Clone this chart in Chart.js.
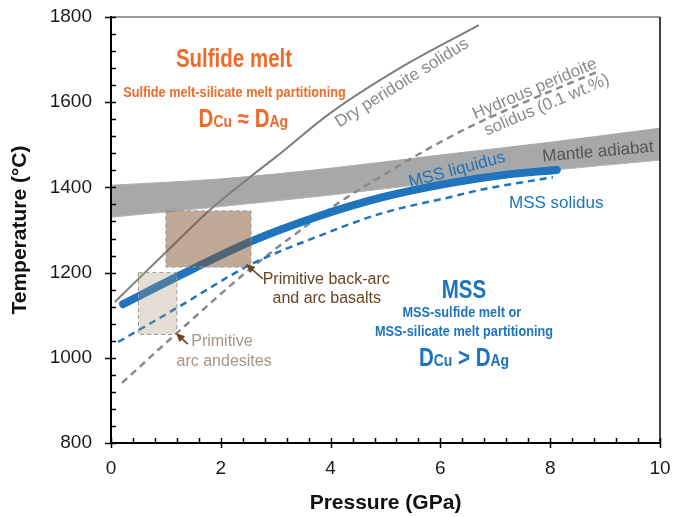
<!DOCTYPE html>
<html>
<head>
<meta charset="utf-8">
<script src="https://cdn.jsdelivr.net/npm/chart.js@4.4.1/dist/chart.umd.min.js"></script>
<style>
html,body{margin:0;padding:0;background:#fff;}
canvas{display:block;}
</style>
</head>
<body>
<canvas id="c" width="674" height="517"></canvas>
<script>
// ---------------- data ----------------
const xTickValues = [0, 2, 4, 6, 8, 10];
const yTickValues = [800, 1000, 1200, 1400, 1600, 1800];

const adiabatP      = [0, 2, 4, 6, 8, 10];
const adiabatTop    = [1405, 1420, 1445, 1476, 1506, 1539];
const adiabatBottom = [1330, 1355, 1382, 1412, 1440, 1464];

const dryP = [0.07, 1.04, 1.8, 2.53, 3.0, 4.0, 5.26, 6.7];
const dryT = [1131, 1253, 1347, 1424, 1471, 1575, 1680, 1781];

const hydrousP = [0.2, 1.2, 2.5, 3.3, 4.1, 5.0, 5.7, 6.5, 7.5, 8.85];
const hydrousT = [941, 1058, 1205, 1285, 1360, 1432, 1485, 1540, 1598, 1671];

const liquidusP = [0.22, 1.2, 2.53, 3.75, 4.95, 6.17, 7.2, 8.12];
const liquidusT = [1126, 1190, 1272, 1331, 1377, 1410, 1430, 1441];

const solidusP = [0.13, 1.2, 2.53, 3.75, 4.95, 6.17, 6.72, 8.05];
const solidusT = [1037, 1117, 1218, 1284, 1340, 1377, 1394, 1424];

// rectangles: [Pmin, Pmax, Tmin, Tmax]
const backArcBox  = [1.0, 2.55, 1213, 1345];
const andesiteBox = [0.5, 1.2, 1055, 1200];

// ---------------- helpers ----------------
const pts = (xs, ys) => xs.map((x, i) => ({x: x, y: ys[i]}));
const SANS = '"Liberation Sans", Arial, Helvetica, sans-serif';
const BLUE = '#1e73be';
const ORANGE = '#f06a28';
const GRAY = '#8a8a8a';

// annotation placement (data coordinates)
const labels = [
  {t: 'Dry peridoite solidus', p: 5.30, T: 1645, rot: -32, size: 17, color: GRAY},
  {t: 'Hydrous peridoite', p: 7.72, T: 1631, rot: -23, size: 17, color: GRAY},
  {t: 'solidus (0.1 wt.%)', p: 7.94, T: 1593, rot: -23, size: 17, color: GRAY},
  {t: 'Mantle adiabat', p: 8.87, T: 1483, rot: -5, size: 17, color: '#555555'},
  {t: 'MSS liquidus', p: 6.30, T: 1441, rot: -15, size: 17, color: BLUE},
  {t: 'MSS solidus', p: 8.11, T: 1363, rot: 0, size: 17, color: BLUE},
  {t: 'Primitive back-arc', p: 3.92, T: 1183, rot: 0, size: 16, color: '#6a4523'},
  {t: 'and arc basalts', p: 3.93, T: 1138, rot: 0, size: 16, color: '#6a4523'},
  {t: 'Primitive', p: 2.02, T: 1037, rot: 0, size: 16, color: '#a89484'},
  {t: 'arc andesites', p: 2.06, T: 990, rot: 0, size: 16, color: '#a89484'}
];
// bold condensed labels: baseline positions
const boldLabels = [
  {segs: [['Sulfide melt', 25]], p: 2.24, T: 1683, color: ORANGE},
  {segs: [['Sulfide melt-silicate melt partitioning', 15.5]], p: 2.25, T: 1612, color: ORANGE},
  {segs: [['D', 25], ['Cu', 17], [' \u2248 ', 25], ['D', 25], ['Ag', 17]], p: 2.41, T: 1542, color: ORANGE},
  {segs: [['MSS', 25]], p: 6.43, T: 1140, color: BLUE},
  {segs: [['MSS-sulfide melt or', 15.5]], p: 6.39, T: 1096, color: BLUE},
  {segs: [['MSS-silicate melt partitioning', 15.5]], p: 6.43, T: 1051, color: BLUE},
  {segs: [['D', 25], ['Cu', 17], [' > ', 25], ['D', 25], ['Ag', 17]], p: 6.43, T: 981, color: BLUE}
];
const arrows = [
  {from: [2.77, 1185], to: [2.46, 1220]},
  {from: [1.40, 1032], to: [1.18, 1058]}
];

const decor = {
  id: 'decor',
  afterDraw(chart) {
    const ctx = chart.ctx;
    const xs = chart.scales.x, ys = chart.scales.y;
    const X = v => xs.getPixelForValue(v), Y = v => ys.getPixelForValue(v);
    const area = chart.chartArea;

    // rectangles
    const rect = (b, fill) => {
      const x0 = X(b[0]), x1 = X(b[1]), y0 = Y(b[3]), y1 = Y(b[2]);
      ctx.save();
      ctx.fillStyle = fill;
      ctx.fillRect(x0, y0, x1 - x0, y1 - y0);
      ctx.setLineDash([4, 3]);
      ctx.strokeStyle = '#9a9a9a';
      ctx.lineWidth = 1;
      ctx.strokeRect(x0, y0, x1 - x0, y1 - y0);
      ctx.restore();
    };
    rect(backArcBox, 'rgba(132,84,48,0.5)');
    rect(andesiteBox, 'rgba(165,145,115,0.3)');

    // arrows
    arrows.forEach(a => {
      const x0 = X(a.from[0]), y0 = Y(a.from[1]), x1 = X(a.to[0]), y1 = Y(a.to[1]);
      const ang = Math.atan2(y1 - y0, x1 - x0);
      ctx.save();
      ctx.strokeStyle = '#6a4523'; ctx.fillStyle = '#6a4523';
      ctx.lineWidth = 1.6;
      ctx.beginPath();
      ctx.moveTo(x0, y0);
      ctx.lineTo(x1 - 6 * Math.cos(ang), y1 - 6 * Math.sin(ang));
      ctx.stroke();
      ctx.beginPath();
      ctx.moveTo(x1, y1);
      ctx.lineTo(x1 - 9 * Math.cos(ang) + 4 * Math.sin(ang), y1 - 9 * Math.sin(ang) - 4 * Math.cos(ang));
      ctx.lineTo(x1 - 9 * Math.cos(ang) - 4 * Math.sin(ang), y1 - 9 * Math.sin(ang) + 4 * Math.cos(ang));
      ctx.closePath();
      ctx.fill();
      ctx.restore();
    });

    // regular labels
    labels.forEach(l => {
      ctx.save();
      ctx.translate(X(l.p), Y(l.T));
      ctx.rotate(l.rot * Math.PI / 180);
      ctx.font = l.size + 'px ' + SANS;
      ctx.fillStyle = l.color;
      ctx.textAlign = 'center';
      ctx.textBaseline = 'middle';
      ctx.fillText(l.t, 0, 0);
      ctx.restore();
    });

    // bold condensed labels
    const SX = 0.82;
    boldLabels.forEach(l => {
      ctx.save();
      ctx.translate(X(l.p), Y(l.T));
      ctx.scale(SX, 1);
      ctx.fillStyle = l.color;
      ctx.textBaseline = 'alphabetic';
      ctx.textAlign = 'left';
      let total = 0;
      const widths = l.segs.map(s => {
        ctx.font = 'bold ' + s[1] + 'px ' + SANS;
        const w = ctx.measureText(s[0]).width;
        total += w;
        return w;
      });
      let x = -total / 2;
      l.segs.forEach((s, i) => {
        ctx.font = 'bold ' + s[1] + 'px ' + SANS;
        ctx.fillText(s[0], x, 0);
        x += widths[i];
      });
      ctx.restore();
    });

    // frame
    ctx.save();
    ctx.strokeStyle = '#333';
    ctx.lineWidth = 1.2;
    ctx.beginPath();
    ctx.moveTo(area.left, area.top); ctx.lineTo(area.right, area.top);
    ctx.stroke();
    ctx.strokeStyle = '#111';
    ctx.lineWidth = 1.6;
    ctx.beginPath();
    ctx.moveTo(area.right, area.top); ctx.lineTo(area.right, area.bottom);
    ctx.stroke();
    ctx.strokeStyle = '#000';
    ctx.lineWidth = 2;
    ctx.beginPath();
    ctx.moveTo(area.left, area.top - 1); ctx.lineTo(area.left, area.bottom);
    ctx.lineTo(area.right + 1, area.bottom);
    ctx.stroke();

    // tick marks
    ctx.lineWidth = 1.5;
    for (let v = 800; v <= 1800.01; v += 40) {
      const y = Math.round(Y(v)) + 0.5;
      const major = yTickValues.includes(Math.round(v));
      ctx.beginPath();
      ctx.moveTo(area.left - (major ? 6 : 0), y);
      ctx.lineTo(area.left + 5, y);
      ctx.stroke();
    }
    for (let k = 0; k <= 25; k++) {
      const v = k * 0.4;
      const x = Math.round(X(v)) + 0.5;
      const major = k % 5 === 0;
      ctx.beginPath();
      ctx.moveTo(x, area.bottom + (major ? 5 : 0));
      ctx.lineTo(x, area.bottom - 5);
      ctx.stroke();
    }
    ctx.restore();
  }
};

new Chart(document.getElementById('c'), {
  type: 'line',
  data: {
    datasets: [
      {label: 'Mantle adiabat top', data: pts(adiabatP, adiabatTop), fill: '+1',
       backgroundColor: '#a7a8aa', borderColor: '#a7a8aa', borderWidth: 1, order: 10,
       pointRadius: 0, cubicInterpolationMode: 'monotone'},
      {label: 'Mantle adiabat bottom', data: pts(adiabatP, adiabatBottom), fill: false,
       borderColor: '#b4b5b7', borderWidth: 1, order: 9,
       pointRadius: 0, cubicInterpolationMode: 'monotone'},
      {label: 'Dry peridotite solidus', data: pts(dryP, dryT), fill: false,
       borderColor: '#7f7f7f', borderWidth: 2, order: 5,
       pointRadius: 0, cubicInterpolationMode: 'monotone'},
      {label: 'Hydrous peridotite solidus', data: pts(hydrousP, hydrousT), fill: false,
       borderColor: '#8a8a8a', borderWidth: 2.5, borderDash: [7, 5], order: 4,
       pointRadius: 0, cubicInterpolationMode: 'monotone'},
      {label: 'MSS solidus', data: pts(solidusP, solidusT), fill: false,
       borderColor: '#1f74bd', borderWidth: 2.5, borderDash: [7, 5], order: 3,
       pointRadius: 0, cubicInterpolationMode: 'monotone'},
      {label: 'MSS liquidus', data: pts(liquidusP, liquidusT), fill: false,
       borderColor: '#1f74bd', borderWidth: 8, borderCapStyle: 'round', order: 1,
       pointRadius: 0, cubicInterpolationMode: 'monotone'}
    ]
  },
  options: {
    responsive: false,
    animation: false,
    events: [],
    layout: {padding: {left: 0, right: 14, top: 17, bottom: 0}},
    plugins: {legend: {display: false}, tooltip: {enabled: false}},
    scales: {
      x: {
        type: 'linear', min: 0, max: 10,
        afterFit: s => { s.height = 74; s.paddingLeft = 0; s.paddingRight = 0; },
        afterBuildTicks: s => { s.ticks = xTickValues.map(v => ({value: v})); },
        grid: {display: false, drawTicks: false},
        border: {display: false},
        ticks: {padding: 14, color: '#1a1a1a', font: {family: SANS, size: 19},
                callback: v => String(v)},
        title: {display: true, text: 'Pressure (GPa)', color: '#111',
                font: {family: SANS, size: 21, weight: 'bold'}, padding: {top: 1, bottom: 1}}
      },
      y: {
        type: 'linear', min: 800, max: 1800,
        afterFit: s => { s.width = 111; s.paddingTop = 0; s.paddingBottom = 0; },
        afterBuildTicks: s => { s.ticks = yTickValues.map(v => ({value: v})); },
        grid: {display: false, drawTicks: false},
        border: {display: false},
        ticks: {padding: 19, color: '#1a1a1a', font: {family: SANS, size: 19},
                callback: v => String(v)},
        title: {display: true, text: 'Temperature (\u00b0C)', color: '#111',
                font: {family: SANS, size: 21, weight: 'bold'}, padding: {top: 8, bottom: 8}}
      }
    }
  },
  plugins: [decor]
});
</script>
</body>
</html>
